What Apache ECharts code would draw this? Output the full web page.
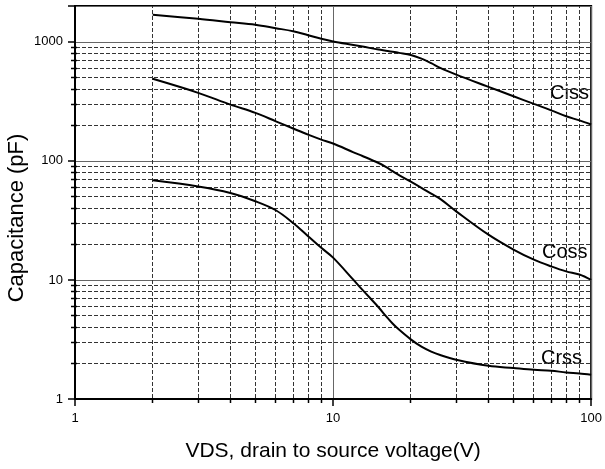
<!DOCTYPE html>
<html>
<head>
<meta charset="utf-8">
<script src="https://cdn.jsdelivr.net/npm/echarts@6/dist/echarts.min.js"></script>
<style>html,body{margin:0;padding:0;background:#fff}#c{width:605px;height:469px}</style>
</head>
<body>
<div id="c"></div>
<script>
// Drain-to-source voltage (V)
const vds  = [2, 3, 4, 5, 6, 7, 8, 9, 10, 12, 13, 15, 16, 17, 18, 20, 22, 24, 26, 30, 40, 50, 60, 70, 80, 90, 100];
// Capacitances (pF)
const ciss = [1687, 1561, 1462, 1390, 1301, 1228, 1136, 1060, 1006, 940, 912, 861, 843, 826, 808, 775, 722, 662, 604, 531, 419, 349, 301, 266, 237, 219, 202];
const coss = [489, 373, 297, 253, 215, 187, 166, 151, 140, 118, 110, 96, 89, 82, 76, 67, 59.4, 53, 48, 37.7, 24, 18, 14.8, 13, 11.8, 11.1, 10];
const crss = [68.7, 61, 53.8, 45.8, 38.5, 30.1, 23.3, 18.6, 15.4, 10, 8.25, 5.9, 4.99, 4.31, 3.83, 3.17, 2.75, 2.5, 2.34, 2.14, 1.9, 1.82, 1.76, 1.73, 1.67, 1.64, 1.6];
// Axis extents and minor grid values
const xRange = [1, 100];
const yRange = [1, 2000];
const xMinor = [2, 3, 4, 5, 6, 7, 8, 9, 20, 30, 40, 50, 60, 70, 80, 90];
const yMinor = [2, 3, 4, 5, 6, 7, 8, 9, 20, 30, 40, 50, 60, 70, 80, 90, 200, 300, 400, 500, 600, 700, 800, 900];
const seriesNames = ['Ciss', 'Coss', 'Crss'];

const FONT = 'Arial, "Liberation Sans", sans-serif';
const chart = echarts.init(document.getElementById('c'), null, {renderer: 'canvas'});

function isPow10(v) {
  const l = Math.log10(v);
  return Math.abs(l - Math.round(l)) < 1e-6;
}

function pair(xs, ys) { return xs.map((x, i) => [x, ys[i]]); }

const hData = yMinor.map(v => [xRange[0], v]);
const vData = xMinor.map(v => [v, yRange[0]]);

function crisp(v) { return Math.round(v - 0.5) + 0.5; }

function curve(name, ys) {
  return {type: 'line', name: name, z: 3, data: pair(vds, ys), showSymbol: false,
    smooth: 0.35, lineStyle: {color: '#000', width: 2}};
}

const option = {
  animation: false,
  backgroundColor: '#fff',
  grid: {left: 75, right: 12, top: 6, bottom: 70, show: true, borderColor: '#000', borderWidth: 2, backgroundColor: 'transparent'},
  xAxis: {
    type: 'log', logBase: 10, min: xRange[0], max: xRange[1],
    name: 'VDS, drain to source voltage(V)', nameLocation: 'middle', nameGap: 42,
    nameTextStyle: {fontFamily: FONT, fontSize: 21, color: '#000'},
    axisLine: {show: true, lineStyle: {color: '#000', width: 2}},
    axisTick: {show: true, length: 7, lineStyle: {color: '#000', width: 1.5}},
    axisLabel: {fontFamily: FONT, fontSize: 13, color: '#000', margin: 13,
      formatter: v => isPow10(v) ? String(Math.round(v)) : ''},
    splitLine: {show: true, lineStyle: {color: '#666', width: 1, type: 'solid'}}
  },
  yAxis: {
    type: 'log', logBase: 10, min: yRange[0], max: yRange[1],
    axisLine: {show: true, lineStyle: {color: '#000', width: 2}},
    axisTick: {show: true, length: 7, lineStyle: {color: '#000', width: 1.5}},
    axisLabel: {fontFamily: FONT, fontSize: 13, color: '#000', margin: 12,
      formatter: v => isPow10(v) ? String(Math.round(v)) : ''},
    splitLine: {show: true, lineStyle: {color: '#666', width: 1, type: 'solid'}}
  },
  graphic: [
    {type: 'text', x: 17, y: 218, rotation: Math.PI / 2,
      style: {text: 'Capacitance (pF)', font: '22px ' + FONT, fill: '#000', align: 'center', verticalAlign: 'middle'}},
    {type: 'text', x: 550, y: 93,
      style: {text: seriesNames[0], font: '20px ' + FONT, fill: '#000', align: 'left', verticalAlign: 'middle'}},
    {type: 'text', x: 542, y: 252,
      style: {text: seriesNames[1], font: '20px ' + FONT, fill: '#000', align: 'left', verticalAlign: 'middle'}},
    {type: 'text', x: 541, y: 358,
      style: {text: seriesNames[2], font: '20px ' + FONT, fill: '#000', align: 'left', verticalAlign: 'middle'}}
  ],
  series: [
    {
      type: 'custom', name: 'hgrid', z: 1, clip: false, silent: true,
      data: hData,
      encode: {x: 0, y: 1},
      renderItem: function (params, api) {
        const v = api.value(1);
        const p0 = api.coord([xRange[0], v]);
        const p1 = api.coord([xRange[1], v]);
        const y = crisp(p0[1]);
        return {type: 'group', children: [
          {type: 'line', shape: {x1: p0[0] + 1, y1: y, x2: p1[0], y2: y},
            style: {stroke: '#333', lineWidth: 1, lineDash: [4, 2]}},
          {type: 'line', shape: {x1: p0[0] - 4, y1: y, x2: p0[0] + 2, y2: y},
            style: {stroke: '#000', lineWidth: 1.5}}
        ]};
      }
    },
    {
      type: 'custom', name: 'vgrid', z: 1, clip: false, silent: true,
      data: vData,
      encode: {x: 0, y: 1},
      renderItem: function (params, api) {
        const v = api.value(0);
        const p0 = api.coord([v, yRange[0]]);
        const p1 = api.coord([v, yRange[1]]);
        const x = crisp(p0[0]);
        return {type: 'group', children: [
          {type: 'line', shape: {x1: x, y1: p0[1] - 1, x2: x, y2: p1[1]},
            style: {stroke: '#333', lineWidth: 1, lineDash: [4, 2]}},
          {type: 'line', shape: {x1: x, y1: p0[1], x2: x, y2: p0[1] + 4},
            style: {stroke: '#000', lineWidth: 1.5}}
        ]};
      }
    },
    curve(seriesNames[0], ciss),
    curve(seriesNames[1], coss),
    curve(seriesNames[2], crss)
  ]
};
chart.setOption(option);
</script>
</body>
</html>
